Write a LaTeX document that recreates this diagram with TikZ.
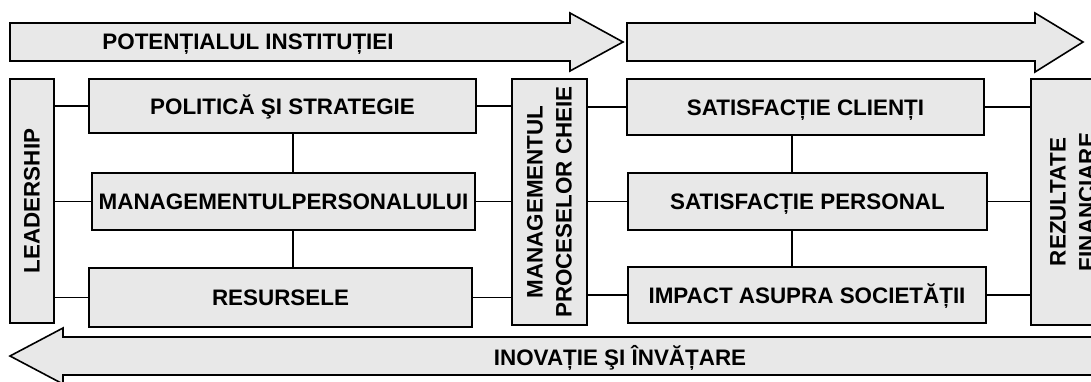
\documentclass[tikz,border=0pt]{standalone}
\usepackage{fontspec}
\setmainfont{Liberation Sans}
\definecolor{boxfill}{RGB}{232,232,232}
\tikzset{
  lbl/.style={font=\bfseries\fontsize{22.4}{29}\selectfont},
  blk/.style={lbl, draw=black, line width=1.8pt, fill=boxfill, inner sep=0pt,
              text height=16pt, text depth=0pt},
  vblk/.style={lbl, draw=black, line width=1.8pt, fill=boxfill, inner sep=0pt,
               rotate=90, align=center},
  link/.style={line width=1.3pt},
  band/.style={draw=black, line width=1.6pt, fill=boxfill, line join=miter},
  bandtext/.style={lbl, inner sep=0pt, text height=16pt, text depth=0pt}
}
\begin{document}
\begin{tikzpicture}[x=1pt,y=-1pt]
\clip (0,0) rectangle (1091,381);

% wide arrows
\path[band] (10,23) -- (570,23) -- (570,13) -- (623,42) -- (570,71) -- (570,61) -- (10,61) -- cycle;
\node[bandtext] (pot) at (248,41) {POTENȚIALUL INSTITUȚIEI};
\path[band] (627,23) -- (1035,23) -- (1035,13) -- (1083,42) -- (1035,72) -- (1035,61) -- (627,61) -- cycle;
\path[band] (1110,337) -- (63,337) -- (63,328) -- (10,356) -- (63,384) -- (63,375) -- (1110,375) -- cycle;
\node[bandtext] (inv) at (620,357) {INOVAȚIE ŞI ÎNVĂȚARE};

% enablers (rotated boxes: north faces left, south faces right)
\node[vblk, minimum width=244pt, minimum height=44pt] (lead) at (32,201) {LEADERSHIP};
\node[blk, minimum width=387pt, minimum height=54pt] (pol) at (282.5,106) {POLITICĂ ŞI STRATEGIE};
\node[blk, minimum width=383pt, minimum height=57pt] (mp) at (283.5,201.5) {MANAGEMENTULPERSONALULUI};
\node[blk, minimum width=383pt, minimum height=59pt] (res) at (280.5,297.5) {RESURSELE};
\node[vblk, minimum width=246pt, minimum height=75pt] (mpc) at (549.5,202) {MANAGEMENTUL\\PROCESELOR CHEIE};

% results
\node[blk, minimum width=357pt, minimum height=56pt] (sc) at (805.5,107) {SATISFACȚIE CLIENȚI};
\node[blk, minimum width=359pt, minimum height=57pt] (sp) at (807.5,201.5) {SATISFACȚIE PERSONAL};
\node[blk, minimum width=358pt, minimum height=56pt] (ia) at (807,295) {IMPACT ASUPRA SOCIETĂȚII};
\node[vblk, minimum width=246pt, minimum height=83pt] (rf) at (1072.5,202) {REZULTATE\\FINANCIARE};

% links
\coordinate (lv) at (293,0);
\coordinate (rv) at (792,0);
\foreach \b in {pol,mp,res} {
  \draw[link] (\b.west) -- (\b.west -| lead.south);
  \draw[link] (\b.east) -- (\b.east -| mpc.north);
}
\foreach \b in {sc,sp,ia} {
  \draw[link] (\b.west) -- (\b.west -| mpc.south);
  \draw[link] (\b.east) -- (\b.east -| rf.north);
}
\draw[link] (pol.south -| lv) -- (mp.north -| lv);
\draw[link] (mp.south -| lv) -- (res.north -| lv);
\draw[link] (sc.south -| rv) -- (sp.north -| rv);
\draw[link] (sp.south -| rv) -- (ia.north -| rv);
\end{tikzpicture}
\end{document}
